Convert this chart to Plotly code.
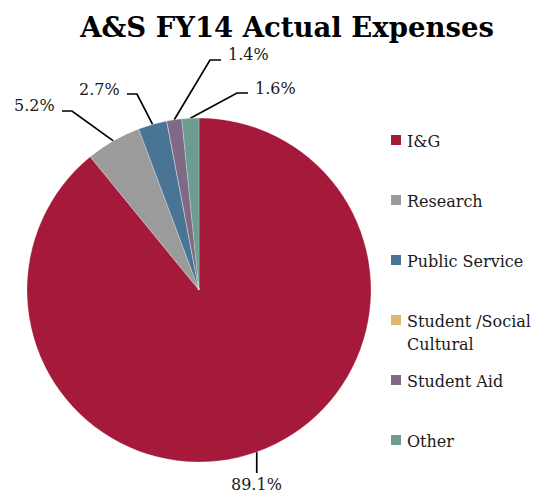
import math
import plotly.graph_objects as go

# Expense categories and their share of the total (percent)
categories = ["I&G", "Research", "Public Service", "Student /Social Cultural", "Student Aid", "Other"]
legend_lines = [["I&G"], ["Research"], ["Public Service"], ["Student /Social", "Cultural"], ["Student Aid"], ["Other"]]
shares = [89.1, 5.2, 2.7, 0.0, 1.4, 1.6]
colors = ["#A51A3A", "#9B9B9B", "#4A7494", "#E0B76E", "#7F6985", "#6C9D91"]

W, H = 537, 495
FONT = "DejaVu Serif"
TEXT = "#1a1a1a"

# Pie placement in pixels
cx, cy, r = 199, 290, 172

# Callout geometry per slice: (elbow point, end of horizontal tick, label anchor, side)
callouts = {
    "I&G": (None, (None, 473), (None, 484), "below"),
    "Research": ((72, 111), (62, 111), (57, 105), "left"),
    "Public Service": ((137, 94), (127, 94), (122, 89), "left"),
    "Student Aid": ((210, 60), (221, 60), (226, 54), "right"),
    "Other": ((237, 93), (248, 93), (253, 88), "right"),
}

fig = go.Figure()

fig.add_trace(go.Pie(
    labels=categories,
    values=shares,
    sort=False,
    direction="clockwise",
    rotation=0,
    textinfo="none",
    hoverinfo="label+percent",
    showlegend=False,
    marker=dict(colors=colors, line=dict(color="white", width=0.25)),
    domain=dict(x=[(cx - r) / W, (cx + r) / W], y=[1 - (cy + r) / H, 1 - (cy - r) / H]),
))

annotations = []
total = sum(shares)
cum = 0.0
for name, val in zip(categories, shares):
    mid = (cum + val / 2) / total * 2 * math.pi
    cum += val
    if val <= 0 or name not in callouts:
        continue
    ex = cx + r * math.sin(mid)
    ey = cy - r * math.cos(mid)
    elbow, tick, lab, side = callouts[name]
    if side == "below":
        xs, ys = [ex, ex], [ey, tick[1]]
        lx, ly, xa = ex, lab[1], "center"
    else:
        xs, ys = [ex, elbow[0], tick[0]], [ey, elbow[1], tick[1]]
        lx, ly = lab
        xa = "right" if side == "left" else "left"
    fig.add_trace(go.Scatter(x=xs, y=ys, mode="lines", line=dict(color="black", width=1.7),
                             hoverinfo="skip", showlegend=False))
    annotations.append(dict(x=lx, y=ly, xref="x", yref="y", text=f"{val:.1f}%", showarrow=False,
                            xanchor=xa, yanchor="middle", font=dict(family=FONT, size=16, color=TEXT)))

# Legend drawn as square markers with labels to the right
leg_x, leg_y0, leg_gap = 396, 140, 60
leg_ys = [leg_y0 + i * leg_gap for i in range(len(categories))]
fig.add_trace(go.Scatter(x=[leg_x] * len(categories), y=leg_ys, mode="markers",
                         marker=dict(symbol="square", size=10, color=colors, line=dict(width=0)),
                         hovertext=categories, hoverinfo="text", showlegend=False))
for lines, y in zip(legend_lines, leg_ys):
    for j, line in enumerate(lines):
        annotations.append(dict(x=leg_x + 9, y=y + 1 + j * 23, xref="x", yref="y", text=line, showarrow=False,
                                xanchor="left", yanchor="middle",
                                font=dict(family=FONT, size=16, color=TEXT)))

fig.update_layout(
    width=W, height=H,
    margin=dict(l=0, r=0, t=0, b=0),
    paper_bgcolor="white", plot_bgcolor="rgba(0,0,0,0)",
    title=dict(text="<b>A&S FY14 Actual Expenses</b>", x=287 / W, xanchor="center",
               y=1 - 27 / H, yanchor="middle", yref="container",
               font=dict(family=FONT, size=27.5, color="black")),
    xaxis=dict(range=[0, W], visible=False, fixedrange=True, domain=[0, 1]),
    yaxis=dict(range=[H, 0], visible=False, fixedrange=True, domain=[0, 1]),
    annotations=annotations,
    showlegend=False,
)

fig.write_html("out.html")
